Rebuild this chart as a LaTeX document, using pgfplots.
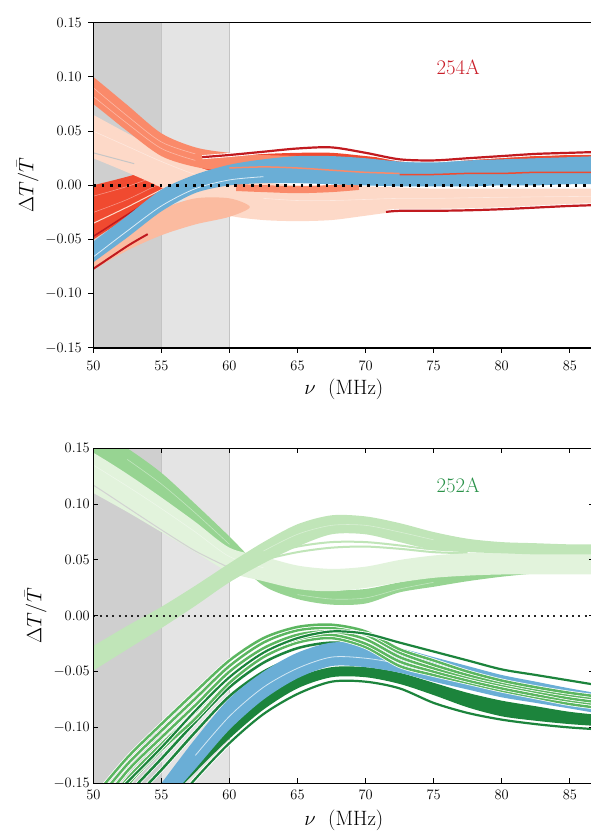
\documentclass[border=0pt]{standalone}
\usepackage{pgfplots}
\pgfplotsset{compat=1.18}
\definecolor{shadeA}{HTML}{CFCFCF}
\definecolor{shadeB}{HTML}{E4E4E4}
\definecolor{shadeL}{HTML}{C4C4C4}
\definecolor{pinkL}{HTML}{FDD9C8}
\definecolor{peachC}{HTML}{FBBBA0}
\definecolor{salmonC}{HTML}{FA8A6A}
\definecolor{redC}{HTML}{F04A30}
\definecolor{darkredC}{HTML}{C11A1F}
\definecolor{blueC}{HTML}{6AAED6}
\definecolor{paleG}{HTML}{E2F3DC}
\definecolor{ulG}{HTML}{C0E5B8}
\definecolor{midG}{HTML}{97D492}
\definecolor{medG}{HTML}{5BB660}
\definecolor{darkG}{HTML}{1C843C}
\definecolor{txtRed}{HTML}{C91D28}
\definecolor{txtGreen}{HTML}{2A9249}
\pgfplotsset{
  panel/.style={
    scale only axis, width=501pt,
    xmin=50, xmax=86.8, ymin=-0.15, ymax=0.15,
    xtick={50,55,...,85},
    ytick={-0.15,-0.1,-0.05,0,0.05,0.1,0.15},
    scaled y ticks=false,
    no markers,
    tick label style={font=\fontsize{14.4}{17}\selectfont, black},
    label style={font=\fontsize{20.74}{25}\selectfont},
    axis line style={line width=1.2pt, black},
    major tick length=5pt,
    every tick/.style={black, line width=1pt},
    axis on top,
    clip=true,
    xlabel={$\nu$~~(MHz)},
    ylabel={$\Delta T/\bar{T}$},
    yticklabel style={/pgf/number format/fixed, /pgf/number format/fixed zerofill, /pgf/number format/precision=2},
  },
  wl/.style={preaction={draw=white, line width=#1}},
  streak/.style={white, line width=0.6pt, opacity=0.4, smooth},
}
\begin{document}
\begin{tikzpicture}
\path[use as bounding box] (0,0) rectangle (591pt,831pt);
\clip (0,0) rectangle (591pt,831pt);
% ================= TOP PANEL =================
\begin{axis}[panel, at={(93.3pt,483pt)}, anchor=south west, height=325.3pt,
  tick align=outside, xtick pos=left, ytick pos=left,
  xticklabel style={yshift=-5pt}, yticklabel style={xshift=-3pt},
  xlabel style={yshift=-1pt}]
\addplot[fill=shadeA, draw=none] coordinates {(50,-0.15) (55,-0.15) (55,0.15) (50,0.15)} --cycle;
\addplot[fill=shadeB, draw=none] coordinates {(55,-0.15) (60,-0.15) (60,0.15) (55,0.15)} --cycle;
\addplot[shadeL, line width=1pt] coordinates {(55,-0.15) (55,0.15)};
\addplot[shadeL, line width=1pt] coordinates {(60,-0.15) (60,0.15)};
% red band
\addplot[fill=redC, draw=none, smooth] coordinates {
(47.5,-0.008)(50,0.0)(52.5,0.008)(55,0.017)(57.5,0.024)(60,0.028)(62.5,0.029)(65,0.030)(67.5,0.030)(70,0.027)(72.5,0.024)(75,0.024)(77.5,0.025)(80,0.026)(82.5,0.027)(85,0.028)(87.5,0.028)(90,0.028)
(90,0.014)(87.5,0.014)(85,0.014)(82.5,0.014)(80,0.013)(77.5,0.013)(75,0.013)(72.5,0.013)(70,0.014)(67.5,0.015)(65,0.015)(62.5,0.015)(60,0.013)(57.5,0.004)(55,-0.012)(52.5,-0.030)(50,-0.050)(47.5,-0.072)} --cycle;
\addplot[streak] coordinates {(50,-0.010)(52.5,-0.001)(55,0.010)(57.5,0.019)};
\addplot[streak] coordinates {(50,-0.025)(52.5,-0.013)(55,0.002)(57.5,0.014)};
\addplot[pinkL, line width=1pt, smooth] coordinates {(50,-0.035)(52.5,-0.020)(55,-0.004)(57.5,0.010)};
% pink band
\addplot[fill=pinkL, draw=none, smooth] coordinates {
(47.5,0.082)(50,0.065)(52.5,0.048)(55,0.032)(57.5,0.018)(60,0.008)(62.5,0.003)(65,0.0)(67.5,0.0)(70,-0.001)(72.5,-0.002)(75,-0.003)(77.5,-0.003)(80,-0.003)(82.5,-0.003)(85,-0.003)(87.5,-0.003)(90,-0.003)
(90,-0.017)(87.5,-0.017)(85,-0.018)(82.5,-0.019)(80,-0.021)(77.5,-0.022)(75,-0.023)(72.5,-0.024)(70,-0.028)(67.5,-0.032)(65,-0.033)(62.5,-0.032)(60,-0.028)(57.5,-0.018)(55,-0.002)(52.5,0.012)(50,0.025)(47.5,0.038)} --cycle;
\addplot[gray!45, line width=1pt] coordinates {(50,0.030)(53,0.020)};
\addplot[streak] coordinates {(50,0.050)(52.5,0.036)(55,0.022)(57.5,0.010)(60,0.002)};
\addplot[streak] coordinates {(62.5,-0.012)(65,-0.014)(67.5,-0.014)(70,-0.013)(72.5,-0.012)(75,-0.012)(80,-0.011)(87.5,-0.010)};
% peach band
\addplot[fill=peachC, draw=none, smooth] coordinates {
(47.5,-0.082)(50,-0.060)(52.5,-0.040)(55,-0.022)(57.5,-0.012)(60,-0.012)(61.5,-0.020)
(60,-0.029)(57.5,-0.036)(55,-0.046)(52.5,-0.060)(50,-0.078)(47.5,-0.098)} --cycle;
% dark red lines lower left
\addplot[darkredC, line width=2pt, smooth] coordinates {(47.5,-0.098)(50,-0.077)(52.5,-0.056)(54,-0.045)};
\addplot[darkredC, line width=1.5pt, smooth] coordinates {(47.5,-0.065)(50,-0.047)(52.5,-0.027)(55,-0.008)(57.5,0.008)};
% salmon band
\addplot[fill=salmonC, draw=none, smooth] coordinates {
(47.5,0.125)(50,0.100)(52.5,0.074)(55,0.048)(57.5,0.035)(60,0.030)(62.5,0.028)(65,0.027)(67.5,0.025)
(67.5,0.020)(65,0.019)(62.5,0.014)(60,0.013)(57.5,0.017)(55,0.027)(52.5,0.050)(50,0.075)(47.5,0.098)} --cycle;
\addplot[streak] coordinates {(50,0.090)(52.5,0.064)(55,0.040)(57.5,0.029)};
\addplot[streak] coordinates {(50,0.082)(52.5,0.057)(55,0.034)(57.5,0.023)};
\addplot[salmonC, line width=7pt, smooth] coordinates {(60.5,-0.002)(62.5,-0.003)(65,-0.004)(67.5,-0.003)(69.5,-0.001)};
% blue band
\addplot[fill=blueC, draw=none, smooth] coordinates {
(47.5,-0.077)(50,-0.052)(52.5,-0.028)(55,-0.004)(57.5,0.010)(60,0.019)(62.5,0.024)(65,0.027)(67.5,0.027)(70,0.025)(72.5,0.022)(75,0.022)(77.5,0.023)(80,0.024)(82.5,0.025)(85,0.026)(87.5,0.027)(90,0.027)
(90,0.001)(87.5,0.001)(85,0.001)(82.5,0.0)(80,0.0)(77.5,-0.001)(75,-0.001)(72.5,-0.001)(70,0.0)(67.5,0.001)(65,0.002)(62.5,0.002)(60,0.0)(57.5,-0.007)(55,-0.024)(52.5,-0.048)(50,-0.071)(47.5,-0.095)} --cycle;
\addplot[white!75!blueC, line width=0.8pt, smooth] coordinates {(47.5,-0.090)(50,-0.066)(52.5,-0.042)(55,-0.019)(57.5,-0.003)(60,0.005)(62.5,0.008)};
\addplot[salmonC, line width=1.5pt, smooth] coordinates {(60,0.016)(62.5,0.017)(65,0.016)(67.5,0.014)(70,0.012)(72.5,0.011)};
\addplot[redC, line width=1.5pt, smooth] coordinates {(72.5,0.010)(75,0.010)(77.5,0.011)(80,0.011)(82.5,0.012)(85,0.012)(87.5,0.012)};
% dark red outline lines
\addplot[darkredC, line width=2.2pt, smooth, wl=4pt] coordinates {(58,0.026)(60,0.028)(62.5,0.031)(65,0.034)(67.5,0.035)(70,0.030)(72.5,0.024)(75,0.023)(77.5,0.025)(80,0.027)(82.5,0.029)(85,0.030)(87.5,0.031)};
\addplot[darkredC, line width=2.2pt, smooth, wl=4pt] coordinates {(71.5,-0.0245)(72.5,-0.0235)(75,-0.0235)(77.5,-0.023)(80,-0.022)(82.5,-0.0205)(85,-0.019)(87.5,-0.018)};
% zero line
\addplot[black, line width=2.6pt, dash pattern=on 2.6pt off 5.7pt] coordinates {(50,0)(87,0)};
\node[text=txtRed, font=\fontsize{20.74}{25}\selectfont] at (axis cs:76.8,0.109) {254A};
\end{axis}
% ================= BOTTOM PANEL =================
\begin{axis}[panel, at={(93.3pt,47.7pt)}, anchor=south west, height=335pt,
  tick align=inside, xtick pos=both, ytick pos=both,
  xticklabel style={yshift=-3pt}, xlabel style={yshift=-4pt}]
\addplot[fill=shadeA, draw=none] coordinates {(50,-0.15) (55,-0.15) (55,0.15) (50,0.15)} --cycle;
\addplot[fill=shadeB, draw=none] coordinates {(55,-0.15) (60,-0.15) (60,0.15) (55,0.15)} --cycle;
\addplot[shadeL, line width=1pt] coordinates {(55,-0.15) (55,0.15)};
\addplot[shadeL, line width=1pt] coordinates {(60,-0.15) (60,0.15)};
% mid green band
\addplot[fill=midG, draw=none, smooth] coordinates {
(47.5,0.186)(50,0.168)(52.5,0.150)(55,0.128)(57.5,0.100)(60,0.071)(62.5,0.041)(65,0.026)(67.5,0.023)(70,0.024)(72.5,0.030)(75,0.035)(77.5,0.039)(80,0.042)(82.5,0.044)(85,0.046)(87.5,0.047)(90,0.047)
(90,0.041)(87.5,0.041)(85,0.040)(82.5,0.038)(80,0.035)(77.5,0.031)(75,0.026)(72.5,0.021)(70,0.011)(67.5,0.010)(65,0.015)(62.5,0.027)(60,0.055)(57.5,0.081)(55,0.104)(52.5,0.125)(50,0.144)(47.5,0.160)} --cycle;
\addplot[streak] coordinates {(52.5,0.140)(55,0.118)(57.5,0.092)(60,0.064)};
\addplot[streak] coordinates {(65,0.019)(67.5,0.015)(70,0.016)(72.5,0.024)(75,0.030)};
% inner lobe lines
\addplot[ulG, line width=2pt, smooth, wl=3.5pt] coordinates {(60,0.043)(62.5,0.054)(65,0.062)(67.5,0.066)(70,0.066)(72.5,0.063)(75,0.059)(77.5,0.057)};
\addplot[ulG, line width=2pt, smooth, wl=3.5pt] coordinates {(60,0.040)(62.5,0.050)(65,0.057)(67.5,0.061)(70,0.062)(72.5,0.060)(75,0.057)(77.5,0.056)};
% pale band
\addplot[fill=paleG, draw=none, smooth] coordinates {
(47.5,0.162)(50,0.146)(52.5,0.127)(55,0.106)(57.5,0.084)(60,0.061)(62.5,0.053)(65,0.045)(67.5,0.042)(70,0.044)(72.5,0.050)(75,0.054)(77.5,0.056)(80,0.057)(82.5,0.058)(85,0.058)(87.5,0.058)(90,0.058)
(90,0.037)(87.5,0.037)(85,0.037)(82.5,0.037)(80,0.037)(77.5,0.036)(75,0.034)(72.5,0.030)(70,0.025)(67.5,0.022)(65,0.024)(62.5,0.031)(60,0.039)(57.5,0.057)(55,0.075)(52.5,0.093)(50,0.110)(47.5,0.127)} --cycle;
\addplot[gray!35, line width=1pt, smooth] coordinates {(47.5,0.135)(50,0.117)(52.5,0.097)(55,0.077)(57.5,0.058)(60,0.043)};
\addplot[streak] coordinates {(50,0.135)(52.5,0.116)(55,0.096)(57.5,0.075)(60,0.053)(62.5,0.043)};
% upper lobe band
\addplot[fill=ulG, draw=none, smooth] coordinates {
(47.5,-0.045)(50,-0.027)(52.5,-0.009)(55,0.008)(57.5,0.027)(60,0.047)(62.5,0.066)(65,0.082)(67.5,0.090)(70,0.089)(72.5,0.083)(75,0.075)(77.5,0.069)(80,0.066)(82.5,0.065)(85,0.064)(87.5,0.064)(90,0.064)
(90,0.055)(87.5,0.055)(85,0.055)(82.5,0.055)(80,0.056)(77.5,0.057)(75,0.059)(72.5,0.066)(70,0.073)(67.5,0.073)(65,0.062)(62.5,0.047)(60,0.030)(57.5,0.009)(55,-0.011)(52.5,-0.030)(50,-0.049)(47.5,-0.068)} --cycle;
\addplot[streak] coordinates {(62.5,0.058)(65,0.073)(67.5,0.081)(70,0.081)(72.5,0.075)(75,0.068)};
% dark green thick band
\addplot[fill=darkG, draw=none, smooth] coordinates {
(52.5,-0.198)(55,-0.160)(57.5,-0.128)(60,-0.100)(62.5,-0.074)(65,-0.055)(67.5,-0.046)(70,-0.046)(72.5,-0.051)(75,-0.060)(77.5,-0.069)(80,-0.076)(82.5,-0.081)(85,-0.086)(87.5,-0.089)(90,-0.090)
(90,-0.100)(87.5,-0.099)(85,-0.097)(82.5,-0.094)(80,-0.090)(77.5,-0.082)(75,-0.071)(72.5,-0.061)(70,-0.055)(67.5,-0.055)(65,-0.065)(62.5,-0.084)(60,-0.110)(57.5,-0.140)(55,-0.172)(52.5,-0.212)} --cycle;
\addplot[darkG, line width=2.2pt, smooth, wl=4pt] coordinates {(55,-0.182)(57.5,-0.146)(60,-0.114)(62.5,-0.088)(65,-0.070)(67.5,-0.059)(70,-0.059)(72.5,-0.065)(75,-0.078)(77.5,-0.087)(80,-0.093)(82.5,-0.097)(85,-0.100)(87.5,-0.102)};
\addplot[darkG, line width=2.5pt, smooth, wl=4pt] coordinates {(52.5,-0.170)(55,-0.138)(57.5,-0.104)(60,-0.072)(62.5,-0.050)(65,-0.037)(67.5,-0.032)(70,-0.034)(72.5,-0.043)(75,-0.052)(77.5,-0.060)(80,-0.067)(82.5,-0.072)(85,-0.077)(87.5,-0.082)};
\addplot[darkG, line width=2.5pt, smooth, wl=4pt] coordinates {(52.5,-0.160)(55,-0.128)(57.5,-0.095)(60,-0.064)(62.5,-0.042)(65,-0.029)(67.5,-0.024)(70,-0.027)(72.5,-0.036)(75,-0.044)(77.5,-0.053)(80,-0.060)(82.5,-0.065)(85,-0.070)(87.5,-0.075)};
% blue band
\addplot[fill=blueC, draw=none, smooth] coordinates {
(52.5,-0.190)(55,-0.150)(57.5,-0.110)(60,-0.074)(62.5,-0.050)(65,-0.033)(67.5,-0.024)(70,-0.025)(72.5,-0.029)(75,-0.037)(77.5,-0.045)(80,-0.053)(82.5,-0.059)(85,-0.065)(87.5,-0.070)(90,-0.072)
(90,-0.090)(87.5,-0.088)(85,-0.083)(82.5,-0.078)(80,-0.073)(77.5,-0.066)(75,-0.059)(72.5,-0.051)(70,-0.046)(67.5,-0.045)(65,-0.056)(62.5,-0.075)(60,-0.102)(57.5,-0.137)(55,-0.172)(52.5,-0.208)} --cycle;
\addplot[white!70!blueC, line width=0.8pt, smooth] coordinates {(57.5,-0.125)(60,-0.090)(62.5,-0.064)(65,-0.047)(67.5,-0.037)(70,-0.038)(72.5,-0.043)(75,-0.050)(77.5,-0.058)(80,-0.065)(82.5,-0.071)(85,-0.076)(87.5,-0.081)};
% medium green lines
\addplot[medG, line width=2.5pt, smooth, wl=4pt] coordinates {(50,-0.195)(52.5,-0.152)(55,-0.120)(57.5,-0.092)(60,-0.060)(62.5,-0.037)(65,-0.024)(67.5,-0.020)(70,-0.028)(72.5,-0.045)(75,-0.053)(77.5,-0.060)(80,-0.067)(82.5,-0.073)(85,-0.079)(87.5,-0.083)};
\addplot[medG, line width=2.5pt, smooth, wl=4pt] coordinates {(50,-0.186)(52.5,-0.146)(55,-0.115)(57.5,-0.086)(60,-0.055)(62.5,-0.033)(65,-0.021)(67.5,-0.017)(70,-0.025)(72.5,-0.041)(75,-0.050)(77.5,-0.058)(80,-0.065)(82.5,-0.071)(85,-0.076)(87.5,-0.080)};
\addplot[medG, line width=2.5pt, smooth, wl=4pt] coordinates {(50,-0.178)(52.5,-0.139)(55,-0.109)(57.5,-0.080)(60,-0.050)(62.5,-0.029)(65,-0.017)(67.5,-0.014)(70,-0.021)(72.5,-0.037)(75,-0.047)(77.5,-0.055)(80,-0.062)(82.5,-0.068)(85,-0.074)(87.5,-0.078)};
\addplot[medG, line width=2.5pt, smooth, wl=4pt] coordinates {(50,-0.170)(52.5,-0.133)(55,-0.103)(57.5,-0.074)(60,-0.045)(62.5,-0.024)(65,-0.013)(67.5,-0.011)(70,-0.017)(72.5,-0.033)(75,-0.044)(77.5,-0.053)(80,-0.060)(82.5,-0.066)(85,-0.071)(87.5,-0.075)};
\addplot[medG, line width=2.5pt, smooth, wl=4pt] coordinates {(50,-0.163)(52.5,-0.127)(55,-0.097)(57.5,-0.068)(60,-0.040)(62.5,-0.020)(65,-0.010)(67.5,-0.008)(70,-0.014)(72.5,-0.030)(75,-0.040)(77.5,-0.050)(80,-0.058)(82.5,-0.064)(85,-0.069)(87.5,-0.073)};
% dark green top outline
\addplot[darkG, line width=2.2pt, smooth, wl=4pt] coordinates {(50,-0.180)(52.5,-0.149)(55,-0.118)(57.5,-0.085)(60,-0.055)(62.5,-0.033)(65,-0.020)(67.5,-0.014)(70,-0.016)(72.5,-0.024)(75,-0.032)(77.5,-0.040)(80,-0.048)(82.5,-0.053)(85,-0.058)(87.5,-0.063)};
% zero line
\addplot[black!85, line width=2pt, dash pattern=on 2pt off 4.3pt] coordinates {(50,0)(87,0)};
\node[text=txtGreen, font=\fontsize{20.74}{25}\selectfont] at (axis cs:76.8,0.117) {252A};
\end{axis}
\end{tikzpicture}
\end{document}
